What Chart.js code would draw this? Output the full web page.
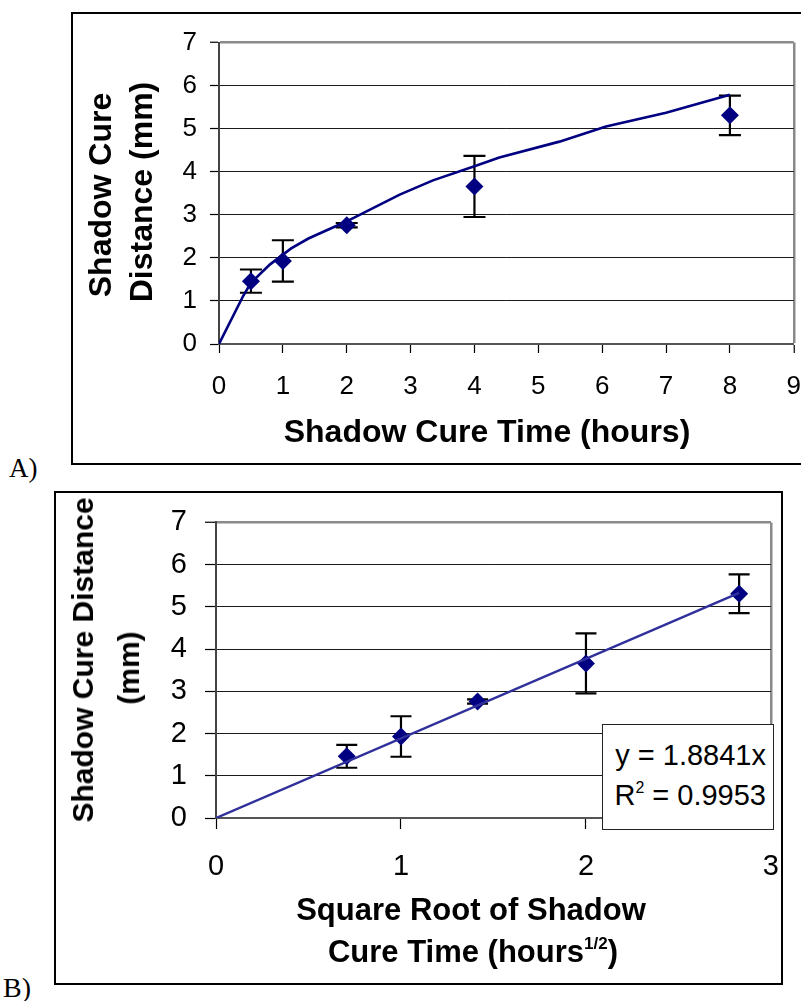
<!DOCTYPE html>
<html><head><meta charset="utf-8">
<script src="https://cdn.jsdelivr.net/npm/chart.js@4.4.0/dist/chart.umd.min.js"></script>
<style>
html,body{margin:0;padding:0;background:#fff;overflow:hidden;width:801px;height:1001px;}
body{position:relative;font-family:"Liberation Sans",Arial,sans-serif;color:#000;}
.frame{position:absolute;border:2px solid #000;box-sizing:border-box;}
.t{position:absolute;font-weight:bold;white-space:nowrap;transform:translate(-50%,-50%);line-height:1;}
.r{transform:translate(-50%,-50%) rotate(-90deg);}
.lbl{position:absolute;font-family:"Liberation Serif","Times New Roman",serif;line-height:1;white-space:nowrap;transform:translateY(-50%);}
canvas{position:absolute;}
.box{position:absolute;border:1px solid #222;background:#fff;box-sizing:border-box;font-size:29px;line-height:1;}
.box div{position:absolute;right:7px;white-space:nowrap;transform:translateY(-50%);}
sup{font-size:0.55em;vertical-align:0;position:relative;top:-0.75em;}
</style></head><body>

<div class="frame" style="left:71px;top:12px;width:760px;height:453px;"></div>
<div class="frame" style="left:54px;top:491px;width:729px;height:494px;"></div>

<canvas id="chartA" width="746" height="448" style="left:73px;top:14px;"></canvas>
<canvas id="chartB" width="743" height="495" style="left:57px;top:487px;"></canvas>

<div class="t r" style="left:100px;top:195px;font-size:32px;">Shadow Cure</div>
<div class="t r" style="left:141px;top:192px;font-size:32px;">Distance (mm)</div>
<div class="t" style="left:487px;top:431px;font-size:32px;">Shadow Cure Time (hours)</div>
<div class="lbl" style="left:9px;top:468px;font-size:27px;">A)</div>

<div class="t r" style="left:83px;top:660px;font-size:30px;">Shadow Cure Distance</div>
<div class="t r" style="left:129px;top:668px;font-size:30px;">(mm)</div>
<div class="t" style="left:471px;top:909px;font-size:31px;">Square Root of Shadow</div>
<div class="t" style="left:473px;top:951px;font-size:31px;">Cure Time (hours<sup>1/2</sup>)</div>
<div class="lbl" style="left:3px;top:988px;font-size:28px;">B)</div>

<div class="box" style="left:602px;top:724px;width:172px;height:106px;">
  <div style="top:30px;">y = 1.8841x</div>
  <div style="top:70px;">R<sup>2</sup> = 0.9953</div>
</div>

<script>
// ---- data ----
const timeHours   = [0.5, 1, 2, 4, 8];
const sqrtTime    = [0.707, 1, 1.414, 2, 2.828];
const distanceMm  = [1.46, 1.93, 2.76, 3.66, 5.31];
const distanceErr = [0.27, 0.48, 0.05, 0.71, 0.46];
const curveX = [0, 0.38, 0.5, 0.8, 1.13, 1.4, 2, 2.83, 3.35, 4, 4.39, 5.33, 6.06, 7, 8];
const curveY = [0, 1.12, 1.42, 1.85, 2.22, 2.45, 2.85, 3.47, 3.80, 4.13, 4.33, 4.70, 5.05, 5.37, 5.79];
const trendX = [0, 2.828];
const trendY = [0, 5.33];
const xTicksA = [0, 1, 2, 3, 4, 5, 6, 7, 8, 9];
const xTicksB = [0, 1, 2, 3];
const yTicks  = [0, 1, 2, 3, 4, 5, 6, 7];

const FONT = '"Liberation Sans", Arial, sans-serif';
const NAVY = '#000080';

const pts = (xs, ys) => xs.map((x, i) => ({x, y: ys[i]}));

const errorBars = {
  id: 'errorBars',
  beforeDatasetsDraw(chart, args, opts) {
    const ds = chart.data.datasets[opts.dataset];
    const xs = chart.scales.x, ys = chart.scales.y;
    const ctx = chart.ctx;
    ctx.save();
    ctx.strokeStyle = '#000';
    ctx.lineWidth = 2.2;
    ds.data.forEach((p, i) => {
      const e = opts.errors[i];
      const px = xs.getPixelForValue(p.x);
      const top = ys.getPixelForValue(p.y + e);
      const bot = ys.getPixelForValue(p.y - e);
      ctx.beginPath();
      ctx.moveTo(px, top); ctx.lineTo(px, bot);
      ctx.moveTo(px - opts.cap, top); ctx.lineTo(px + opts.cap, top);
      ctx.moveTo(px - opts.cap, bot); ctx.lineTo(px + opts.cap, bot);
      ctx.stroke();
    });
    ctx.restore();
  }
};

function makeOptions(cfg) {
  return {
    responsive: false,
    animation: false,
    events: [],
    layout: {padding: 0},
    plugins: {
      legend: {display: false},
      tooltip: {enabled: false},
      errorBars: {dataset: cfg.errDataset, errors: distanceErr, cap: cfg.cap}
    },
    scales: {
      x: {
        type: 'linear', min: 0, max: cfg.xMax,
        afterBuildTicks: s => { s.ticks = cfg.xTicks.map(v => ({value: v})); },
        afterFit: s => { s.height = cfg.xHeight; },
        ticks: {font: {family: FONT, size: cfg.xFont}, color: '#000', padding: cfg.xPad, maxRotation: 0, autoSkip: false},
        grid: {
          drawOnChartArea: true,
          color: c => (c.tick && c.tick.value === cfg.xMax) ? '#8a8a8a' : 'rgba(0,0,0,0)',
          lineWidth: c => (c.tick && c.tick.value === cfg.xMax) ? 2.5 : 1,
          tickColor: '#000', tickLength: cfg.tickLen, tickWidth: 1.2
        },
        border: {display: true, color: '#555', width: 2}
      },
      y: {
        type: 'linear', min: 0, max: 7,
        afterBuildTicks: s => { s.ticks = yTicks.map(v => ({value: v})); },
        afterFit: s => { s.width = cfg.yWidth; },
        ticks: {font: {family: FONT, size: cfg.yFont}, color: '#000', padding: cfg.yPad},
        grid: {
          color: c => (c.tick && c.tick.value === 7) ? '#8a8a8a' : '#1a1a1a',
          lineWidth: c => (c.tick && c.tick.value === 7) ? 2.5 : 1,
          tickColor: '#000', tickLength: cfg.tickLen, tickWidth: 1.2
        },
        border: {display: true, color: '#444', width: 2}
      }
    }
  };
}

new Chart(document.getElementById('chartA'), {
  type: 'scatter',
  data: {
    datasets: [
      {
        data: pts(timeHours, distanceMm),
        pointStyle: 'rectRot', pointRadius: 9,
        backgroundColor: NAVY, borderColor: NAVY, borderWidth: 0
      },
      {
        data: pts(curveX, curveY),
        showLine: true, borderColor: NAVY, borderWidth: 2.6,
        pointRadius: 0, tension: 0, fill: false
      }
    ]
  },
  options: makeOptions({
    xMax: 9, xTicks: xTicksA, xHeight: 118, yWidth: 146,
    xFont: 26, yFont: 26, xPad: 18, yPad: 13, tickLen: 9, errDataset: 0, cap: 11
  }),
  plugins: [errorBars]
});

new Chart(document.getElementById('chartB'), {
  type: 'scatter',
  data: {
    datasets: [
      {
        data: pts(trendX, trendY),
        showLine: true, borderColor: '#30309c', borderWidth: 2.4,
        pointRadius: 0, tension: 0, fill: false
      },
      {
        data: pts(sqrtTime, distanceMm),
        pointStyle: 'rectRot', pointRadius: 9,
        backgroundColor: NAVY, borderColor: NAVY, borderWidth: 0
      }
    ]
  },
  options: makeOptions({
    xMax: 3, xTicks: xTicksB, xHeight: 164, yWidth: 159,
    xFont: 29, yFont: 29, xPad: 21, yPad: 18, tickLen: 11, errDataset: 1, cap: 10.5
  }),
  plugins: [errorBars]
});
</script>
</body></html>
